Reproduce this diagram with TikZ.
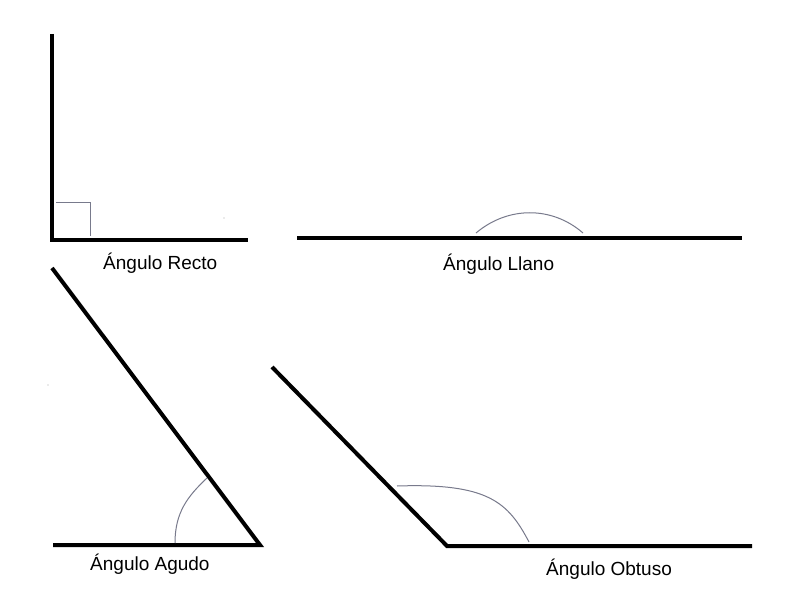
\documentclass[tikz,border=0pt]{standalone}
\usepackage{fontspec}
\setmainfont{Liberation Sans}
\begin{document}
\begin{tikzpicture}[x=1pt,y=-1pt,
  ray/.style={line width=4pt,black,line join=miter},
  arcline/.style={line width=1pt,color=arcgray},
  lbl/.style={anchor=base west,inner sep=0pt,font=\fontsize{19}{22}\selectfont}]
\definecolor{arcgray}{RGB}{120,122,140}
\definecolor{speck}{RGB}{170,170,170}
\useasboundingbox[fill=white] (0,0) rectangle (800,609);
% Right angle
\coordinate (rT) at (52,34);
\coordinate (rV) at (52,240);
\coordinate (rE) at (248,240);
\draw[ray] (rT) -- (rV) -- (rE);
\coordinate (sq1) at (56,203);
\coordinate (sq2) at (90,203);
\coordinate (sq3) at (90,236);
\draw[arcline] (sq1) -- (sq2) -- (sq3);
\fill[speck] (224,218) circle (0.7);
\node[lbl] (recto) at (103,270) {Ángulo Recto};
% Straight angle
\coordinate (lA) at (297,238);
\coordinate (lB) at (742,238);
\draw[ray] (lA) -- (lB);
\coordinate (la1) at (476,233);
\coordinate (la2) at (583,233);
\draw[arcline] (la1) .. controls (508,206) and (552,206) .. (la2);
\node[lbl] (llano) at (443,271) {Ángulo Llano};
% Acute angle
\coordinate (aT) at (52,268);
\coordinate (aV) at (260,545);
\coordinate (aE) at (53,545);
\draw[ray] (aT) -- (aV) -- (aE);
\coordinate (aa1) at (175,543);
\coordinate (aa2) at (207,478);
\draw[arcline] (aa1) .. controls (175,512) and (188,496) .. (aa2);
\fill[speck] (48,385) circle (0.7);
\node[lbl] (agudo) at (90,570) {Ángulo Agudo};
% Obtuse angle
\coordinate (oT) at (272,367);
\coordinate (oV) at (447,546);
\coordinate (oE) at (752,546);
\draw[ray] (oT) -- (oV) -- (oE);
\coordinate (oa1) at (397,486);
\coordinate (oa2) at (529,542);
\draw[arcline] (oa1) .. controls (488,483) and (508,502) .. (oa2);
\node[lbl] (obtuso) at (546,575) {Ángulo Obtuso};
\end{tikzpicture}
\end{document}
